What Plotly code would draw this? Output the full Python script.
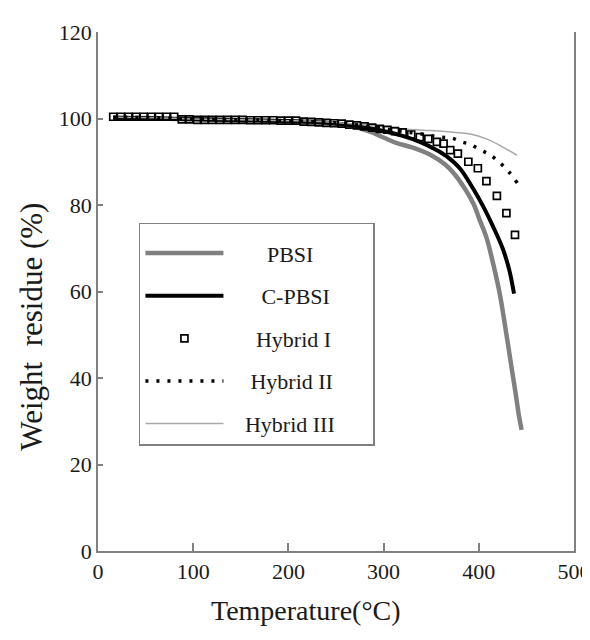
import plotly.graph_objects as go

# ---- data ----
pbsi_t = [16, 50, 100, 150, 200, 240, 265, 285, 300, 314, 330, 349, 365, 375, 387, 395, 401, 408, 415, 422, 428, 434, 439, 442, 445]
pbsi_w = [100.2, 100.1, 99.8, 99.6, 99.3, 98.9, 98.3, 97.0, 95.6, 94.3, 93.3, 91.6, 89.3, 87.0, 83.2, 80.0, 76.5, 72.5, 66.5, 59.5, 51.5, 43.0, 36.0, 31.5, 28.0]

cpbsi_t = [16, 50, 100, 150, 200, 240, 270, 296, 320, 338, 355, 366, 380, 394, 405, 415, 425, 432, 437]
cpbsi_w = [100.2, 100.1, 99.8, 99.6, 99.4, 99.0, 98.3, 97.3, 96.0, 94.6, 92.8, 91.3, 88.5, 83.8, 79.5, 75.0, 70.0, 65.0, 59.5]

h1_t = [16, 24, 32, 40, 48, 56, 64, 72, 80, 88, 96, 104, 112, 120, 128, 136, 144, 152, 160, 168,
        176, 184, 192, 200, 208, 216, 224, 232, 240, 248, 256, 264, 272, 280, 288, 296, 304, 312,
        320, 329, 338, 347, 356, 363, 370, 378, 389, 399, 408, 419, 429, 438]
h1_w = [100.4, 100.4, 100.4, 100.4, 100.4, 100.4, 100.4, 100.4, 100.4, 99.8, 99.8, 99.7, 99.7, 99.7,
        99.7, 99.7, 99.7, 99.7, 99.6, 99.6, 99.6, 99.6, 99.5, 99.5, 99.5, 99.3, 99.2, 99.1, 99.0,
        98.9, 98.8, 98.6, 98.4, 98.2, 97.9, 97.6, 97.4, 97.1, 96.8, 96.3, 95.7, 95.3, 94.6, 94.2,
        92.7, 91.9, 90.0, 88.5, 85.5, 82.1, 78.1, 73.1]

h2_t = [16, 60, 100, 150, 200, 250, 290, 320, 340, 359, 371, 382, 391, 401, 411, 420, 431, 441]
h2_w = [100.3, 100.2, 99.9, 99.7, 99.5, 99.0, 98.0, 97.0, 96.4, 95.7, 95.5, 94.6, 94.0, 92.8, 91.7, 90.2, 87.8, 84.9]

h3_t = [16, 60, 100, 150, 200, 250, 290, 320, 350, 373, 391, 408, 422, 440]
h3_w = [100.3, 100.2, 99.9, 99.7, 99.5, 99.1, 98.3, 97.6, 97.2, 96.8, 96.4, 95.3, 93.8, 91.5]

x_ticks = [0, 100, 200, 300, 400, 500]
y_ticks = [0, 20, 40, 60, 80, 100, 120]

names = ["PBSI", "C-PBSI", "Hybrid I", "Hybrid II", "Hybrid III"]

FONT = "Liberation Serif, Times New Roman, serif"
AX = "#808080"
TXT = "#1a1a1a"
NB = "\u00a0"

# leading / trailing no-break spaces only centre the labels inside the legend box
lead = [7, 6, 5, 4, 3]
trail = [0, 0, 0, 0, 6]
labels = [NB * l + n + NB * t for n, l, t in zip(names, lead, trail)]

fig = go.Figure()
fig.add_trace(go.Scatter(x=pbsi_t, y=pbsi_w, mode="lines", name=labels[0], legendrank=1,
                         legendgroup="a", line=dict(color="#808080", width=4.5, shape="spline")))
fig.add_trace(go.Scatter(x=cpbsi_t, y=cpbsi_w, mode="lines", name=labels[1], legendrank=2,
                         legendgroup="b", line=dict(color="#000000", width=4, shape="spline")))
fig.add_trace(go.Scatter(x=h3_t, y=h3_w, mode="lines", name=labels[4], legendrank=5,
                         legendgroup="e", line=dict(color="#a8a8a8", width=1.5, shape="spline")))
fig.add_trace(go.Scatter(x=h2_t, y=h2_w, mode="lines", name=labels[3], legendrank=4,
                         legendgroup="d", line=dict(color="#000000", width=3.5, dash="3px,8px", shape="spline")))
fig.add_trace(go.Scatter(x=h1_t, y=h1_w, mode="markers", name=labels[2], legendrank=3,
                         legendgroup="c",
                         marker=dict(symbol="square-open", size=7, color="#000000",
                                     line=dict(width=1.7, color="#000000"))))

# the page body adds an 8px offset, so the figure is 8px smaller and margins compensate
fig.update_layout(
    width=582, height=632,
    margin=dict(l=90, r=16, t=13, b=89),
    paper_bgcolor="white", plot_bgcolor="white",
    font=dict(family=FONT, color=TXT, size=22),
    showlegend=True,
    legend=dict(x=0.086, y=0.632, xanchor="left", yanchor="top",
                bordercolor=AX, borderwidth=1.5, bgcolor="white",
                font=dict(family=FONT, size=22, color=TXT),
                tracegroupgap=11, itemwidth=78,
                title=dict(text=" ", font=dict(size=6))),
    xaxis=dict(range=[0, 500], tickvals=x_ticks, ticktext=[str(v) for v in x_ticks],
               showline=True, linecolor=AX, linewidth=1.5, mirror=False,
               ticks="inside", ticklen=8, tickcolor=AX, tickwidth=1.5,
               ticklabeloverflow="allow", automargin=False,
               showgrid=False, zeroline=False, tickfont=dict(size=22, color=TXT)),
    yaxis=dict(range=[0, 120], tickvals=y_ticks, ticktext=[str(v) for v in y_ticks],
               showline=True, linecolor=AX, linewidth=1.5, mirror=True,
               ticks="inside", ticklen=5, tickcolor=AX, tickwidth=1.5,
               showgrid=False, zeroline=False, tickfont=dict(size=22, color=TXT)),
    annotations=[
        dict(text="Temperature(°C)", xref="paper", yref="paper", x=0.437, y=-0.115,
             showarrow=False, font=dict(family=FONT, size=28, color=TXT),
             xanchor="center", yanchor="middle"),
        dict(text="Weight" + NB + NB + "residue (%)", xref="paper", yref="paper", x=-0.139, y=0.432,
             showarrow=False, textangle=-90, font=dict(family=FONT, size=31, color=TXT),
             xanchor="center", yanchor="middle"),
    ],
)

fig.write_html("out.html")
